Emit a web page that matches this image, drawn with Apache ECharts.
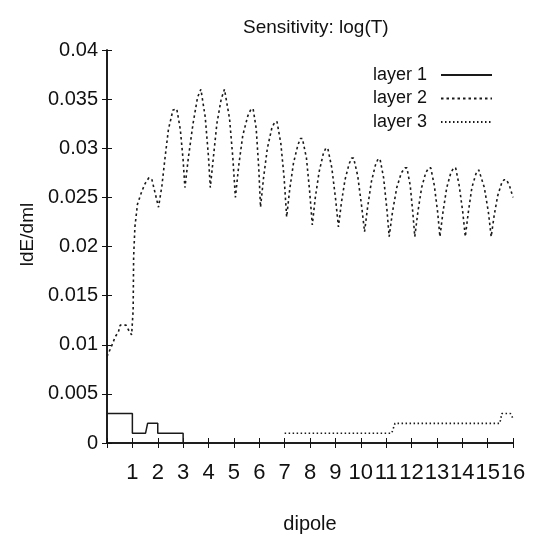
<!DOCTYPE html>
<html>
<head>
<meta charset="utf-8">
<title>Sensitivity: log(T)</title>
<script src="https://cdn.jsdelivr.net/npm/echarts@6/dist/echarts.min.js"></script>
<style>
    html, body { margin: 0; padding: 0; background: #fff; }
    #sensitivity_chart { width: 535px; height: 536px; }
</style>
</head>
<body>
<div id="sensitivity_chart"></div>
<script>

// Data
// ------------------------------

var dipoleTicks = [0, 1, 2, 3, 4, 5, 6, 7, 8, 9, 10, 11, 12, 13, 14, 15, 16];
var sensTicks = [0, 0.005, 0.01, 0.015, 0.02, 0.025, 0.03, 0.035, 0.04];
var seriesNames = ['layer 1', 'layer 2', 'layer 3'];

// layer 1 - solid steps near the bottom left
var layer1 = [
    [0, 0.003], [1, 0.003], [1, 0.001], [1.52, 0.001], [1.6, 0.002],
    [2, 0.002], [2, 0.001], [3, 0.001], [3, 0]
];

// layer 2 - the big oscillating curve
var layer2 = [
    [0, 0.0088], [0.05, 0.0091], [0.22, 0.0101], [0.32, 0.0108], [0.45, 0.0113],
    [0.52, 0.012], [0.75, 0.012], [0.85, 0.0115], [0.97, 0.011],
    [1.0, 0.011], [1.03, 0.0135], [1.05, 0.019], [1.1, 0.022], [1.2, 0.0243],
    [1.37, 0.0256], [1.5, 0.0264], [1.65, 0.027], [1.77, 0.0268], [1.9, 0.0254], [2.03, 0.024],
    [2.16, 0.0261], [2.29, 0.0291], [2.42, 0.0319], [2.6, 0.0339], [2.75, 0.034], [2.89, 0.0319], [3.0, 0.0288], [3.07, 0.026],
    [3.21, 0.0291], [3.39, 0.0325], [3.57, 0.0352], [3.7, 0.036], [3.76, 0.036], [3.87, 0.0332], [4.0, 0.0291], [4.07, 0.026],
    [4.19, 0.029], [4.33, 0.0325], [4.5, 0.035], [4.63, 0.036], [4.7, 0.036], [4.83, 0.033], [4.96, 0.029], [5.06, 0.025],
    [5.19, 0.0282], [5.35, 0.0313], [5.55, 0.0333], [5.68, 0.034], [5.76, 0.034], [5.88, 0.032], [5.98, 0.028], [6.05, 0.024],
    [6.17, 0.027], [6.32, 0.030], [6.5, 0.0321], [6.62, 0.0327], [6.7, 0.0327], [6.85, 0.0305], [6.98, 0.027], [7.08, 0.023],
    [7.2, 0.0258], [7.35, 0.0285], [7.52, 0.0303], [7.62, 0.031], [7.7, 0.031], [7.86, 0.029], [7.99, 0.0255], [8.09, 0.0222],
    [8.21, 0.025], [8.36, 0.0276], [8.52, 0.0294], [8.62, 0.030], [8.7, 0.030], [8.86, 0.028], [9.01, 0.0248], [9.12, 0.022],
    [9.24, 0.0245], [9.38, 0.0268], [9.54, 0.0284], [9.64, 0.029], [9.72, 0.029], [9.88, 0.0272], [10.04, 0.024], [10.15, 0.0215],
    [10.27, 0.024], [10.42, 0.0266], [10.58, 0.0283], [10.68, 0.0289], [10.76, 0.0289], [10.9, 0.027], [11.03, 0.0238], [11.12, 0.021],
    [11.25, 0.0235], [11.42, 0.026], [11.6, 0.0275], [11.74, 0.028], [11.82, 0.028], [11.95, 0.0262], [12.05, 0.0235], [12.13, 0.021],
    [12.25, 0.0235], [12.4, 0.026], [12.56, 0.0275], [12.68, 0.028], [12.76, 0.028], [12.9, 0.0262], [13.03, 0.0235], [13.12, 0.021],
    [13.24, 0.0235], [13.39, 0.026], [13.55, 0.0275], [13.66, 0.028], [13.74, 0.028], [13.88, 0.0262], [14.02, 0.0235], [14.12, 0.021],
    [14.24, 0.0235], [14.38, 0.026], [14.54, 0.0274], [14.65, 0.0278], [14.72, 0.0278], [14.87, 0.026], [15.03, 0.0235], [15.14, 0.021],
    [15.26, 0.0232], [15.4, 0.0252], [15.56, 0.0265], [15.65, 0.0268], [15.74, 0.0268], [15.86, 0.0262], [16, 0.025]
];

// layer 3 - dotted steps near the bottom right
var layer3 = [
    [7, 0.001], [11.22, 0.001], [11.35, 0.002], [15.48, 0.002], [15.56, 0.003],
    [15.9, 0.003], [16, 0.0025]
];


// Setup module
// ------------------------------

var EchartsSensitivity = function () {

    var _sensitivityChart = function () {
        if (typeof echarts == 'undefined') {
            console.warn('Warning - echarts.min.js is not loaded.');
            return;
        }

        var chart_element = document.getElementById('sensitivity_chart');
        if (!chart_element) {
            return;
        }

        var chart = echarts.init(chart_element, null, { renderer: 'canvas' });

        var ink = '#111';
        var font = '"Liberation Sans", Arial, sans-serif';

        // Shared axis bits
        var frameLine = { show: true, lineStyle: { color: ink, width: 1.5 } };
        var frameTick = { show: true, inside: true, length: 5, lineStyle: { color: ink, width: 1 } };

        var xBase = {
            type: 'value',
            min: dipoleTicks[0],
            max: dipoleTicks[dipoleTicks.length - 1],
            interval: 1,
            splitLine: { show: false },
            axisLine: frameLine,
            axisTick: frameTick
        };
        var yBase = {
            type: 'value',
            min: sensTicks[0],
            max: sensTicks[sensTicks.length - 1],
            interval: 0.005,
            splitLine: { show: false },
            axisLine: frameLine,
            axisTick: frameTick
        };

        var lineSeries = function (name, data, dash, width) {
            return {
                name: name,
                type: 'line',
                data: data,
                symbol: 'none',
                smooth: false,
                silent: true,
                // item colour only feeds the legend marker, keep it invisible
                itemStyle: { color: 'rgba(0,0,0,0)' },
                lineStyle: { color: '#1a1a1a', width: width, type: dash }
            };
        };

        chart.setOption({
            animation: false,
            backgroundColor: '#fff',
            textStyle: { fontFamily: font, color: ink },

            title: {
                text: 'Sensitivity: log(T)',
                left: 238,
                top: 13,
                textStyle: { fontFamily: font, fontSize: 19, fontWeight: 'normal', color: ink }
            },

            legend: {
                data: seriesNames,
                orient: 'vertical',
                right: 37,
                top: 61,
                align: 'right',
                itemWidth: 51,
                itemHeight: 14,
                itemGap: 5.5,
                selectedMode: false,
                itemStyle: { color: 'rgba(0,0,0,0)', borderWidth: 0 },
                textStyle: { fontFamily: font, fontSize: 18, color: ink, padding: [0, 9, 0, 0] }
            },

            grid: { left: 107, right: 22, top: 50, bottom: 93, containLabel: false, outerBoundsMode: 'none' },

            xAxis: [
                Object.assign({}, xBase, {
                    position: 'bottom',
                    name: 'dipole',
                    nameLocation: 'middle',
                    nameGap: 71,
                    nameTextStyle: { fontFamily: font, fontSize: 20, color: ink },
                    axisLabel: {
                        margin: 19,
                        fontFamily: font,
                        fontSize: 22,
                        color: ink,
                        formatter: function (v) { return v === 0 ? '' : String(v); }
                    }
                }),
                Object.assign({}, xBase, { position: 'top', axisLabel: { show: false } })
            ],

            yAxis: [
                Object.assign({}, yBase, {
                    position: 'left',
                    name: 'ldE/dml',
                    nameLocation: 'middle',
                    nameGap: 60,
                    nameTextStyle: { fontFamily: font, fontSize: 19, color: ink, padding: [0, 0, 0, 24] },
                    axisLabel: {
                        margin: 9,
                        fontFamily: font,
                        fontSize: 20,
                        color: ink,
                        formatter: function (v) { return String(+v.toFixed(3)); }
                    }
                }),
                Object.assign({}, yBase, { position: 'right', axisLabel: { show: false } })
            ],

            series: [
                lineSeries(seriesNames[0], layer1, 'solid', 1.5),
                lineSeries(seriesNames[1], layer2, [2.5, 3], 1.6),
                lineSeries(seriesNames[2], layer3, [1.5, 2.5], 1.6)
            ]
        });
    };

    return {
        init: function () {
            _sensitivityChart();
        }
    }
}();


// Initialize module
// ------------------------------

document.addEventListener('DOMContentLoaded', function () {
    EchartsSensitivity.init();
});
</script>
</body>
</html>
